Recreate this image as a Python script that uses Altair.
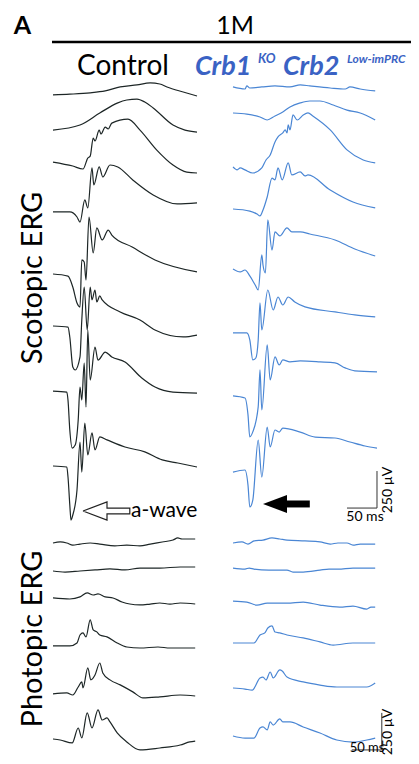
import altair as alt
import pandas as pd

# ---------------- data: traces as (time ms, amplitude µV) -----------------
ctrl_scot_1 = [(0,0),(28,5),(62,14),(87,27),(112,54),(140,68),(162,81),(178,74),(190,54),(217,20),(240,-7)]
ctrl_scot_2 = [(0,0),(45,34),(78,115),(107,182),(123,203),(140,209),(153,189),(167,149),(200,34),(220,0),(240,-14)]
ctrl_scot_3 = [(0,0),(33,-27),(50,-47),(58,27),(62,40),(67,162),(70,142),(77,216),(80,189),(87,236),(92,223),(98,263),(125,290),(145,216),(173,81),(200,-20),(223,-68),(240,-74)]
ctrl_scot_4 = [(0,0),(28,0),(40,-34),(45,-68),(53,81),(58,27),(65,297),(68,182),(77,304),(83,236),(95,317),(108,304),(133,216),(167,115),(207,54),(240,61)]
ctrl_scot_5 = [(0,0),(25,-14),(33,-88),(40,-196),(45,-223),(48,95),(52,81),(55,-41),(60,385),(67,142),(73,311),(82,230),(92,297),(98,263),(132,182),(170,95),(240,14)]
ctrl_scot_6 = [(0,0),(25,-7),(28,-74),(33,-277),(37,-297),(45,-209),(48,41),(52,263),(57,-27),(62,263),(65,176),(70,243),(73,162),(78,203),(82,176),(112,95),(145,41),(170,-27),(217,-74),(240,-61)]
ctrl_scot_7 = [(0,0),(23,-7),(25,-61),(28,-263),(32,-385),(37,-365),(42,-196),(45,27),(48,-61),(52,189),(55,-108),(58,412),(62,74),(70,297),(75,209),(87,263),(98,230),(120,196),(148,88),(170,27),(200,-7),(240,-14)]
ctrl_scot_8 = [(0,0),(23,-7),(25,-74),(28,-263),(30,-365),(33,-331),(40,-162),(45,162),(48,-41),(53,290),(58,74),(65,223),(70,108),(78,196),(90,176),(120,128),(153,95),(182,41),(208,20),(240,-7)]

ko_scot_1 = [(0,0),(20,-14),(23,7),(28,-7),(48,0),(70,7),(95,0),(112,14),(128,7),(162,-7),(187,-14),(195,0),(212,-14),(237,-27)]
ko_scot_2 = [(0,0),(23,-7),(45,-27),(57,-47),(70,-20),(83,7),(95,41),(112,68),(128,81),(145,81),(167,54),(190,20),(212,0),(237,-47)]
ko_scot_3 = [(0,0),(7,-20),(12,-7),(20,-20),(33,-41),(48,-7),(55,47),(62,81),(70,169),(75,203),(83,230),(87,250),(90,230),(92,284),(95,250),(100,351),(107,317),(117,351),(125,365),(133,344),(162,250),(190,115),(217,47),(237,27)]
ko_scot_4 = [(0,0),(28,-14),(40,-34),(45,-47),(50,-7),(57,81),(65,209),(70,196),(75,277),(82,196),(92,311),(98,230),(112,250),(120,223),(125,230),(162,128),(200,47),(237,7)]
ko_scot_5 = [(0,0),(12,-20),(20,-7),(28,-47),(37,-108),(42,-142),(48,95),(50,27),(54,-27),(58,331),(65,128),(70,250),(78,223),(90,277),(98,250),(112,250),(128,236),(170,196),(203,135),(237,88)]
ko_scot_6 = [(0,0),(23,0),(28,-47),(33,-182),(38,-169),(42,-47),(45,203),(48,20),(58,290),(67,155),(75,243),(83,189),(92,243),(103,209),(120,176),(170,142),(203,122),(237,108)]
ko_scot_7 = [(0,0),(20,-14),(25,-128),(28,-277),(33,-243),(42,-74),(45,176),(48,-95),(57,344),(62,108),(70,263),(77,209),(83,243),(95,230),(112,236),(145,230),(170,223),(187,189),(203,169),(240,162)]
ko_scot_8 = [(0,0),(20,14),(25,-88),(28,-236),(33,-189),(42,216),(48,-34),(57,304),(62,169),(70,284),(77,270),(83,297),(112,270),(137,236),(170,230),(195,203),(220,176),(240,162)]

ctrl_phot_1 = [(0,0),(12,7),(23,0),(33,-14),(45,-7),(62,0),(78,-7),(103,-20),(123,-14),(145,-20),(162,-7),(182,7),(200,20),(208,34),(215,27),(237,27)]
ctrl_phot_2 = [(0,0),(20,-7),(45,0),(70,7),(95,14),(120,7),(145,20),(178,20),(212,27),(237,27)]
ctrl_phot_3 = [(0,0),(28,-7),(45,7),(57,34),(67,20),(75,27),(87,7),(100,0),(115,-27),(128,-41),(145,-47),(162,-41),(178,-34),(195,-41),(212,-34),(237,-41)]
ctrl_phot_4 = [(0,0),(28,0),(40,20),(45,74),(50,88),(55,61),(62,176),(67,108),(73,95),(78,74),(90,61),(107,20),(123,-7),(145,-14),(175,-7),(195,-14),(237,-14)]
ctrl_phot_5 = [(0,0),(23,7),(33,-7),(42,47),(48,81),(50,41),(58,176),(63,95),(70,128),(78,209),(83,142),(95,95),(112,61),(133,14),(150,-27),(178,-20),(212,-7),(237,-14)]
ctrl_phot_6 = [(0,0),(12,-7),(32,-27),(42,74),(48,7),(57,176),(65,74),(75,196),(82,128),(90,142),(95,115),(107,41),(123,-20),(145,-74),(178,-61),(212,-41),(228,-20),(237,-14)]

ko_phot_1 = [(0,0),(15,7),(25,-7),(35,14),(50,20),(65,34),(78,27),(90,20),(120,14),(145,7),(162,-7),(175,0),(190,0),(200,-14),(212,-7),(237,-7)]
ko_phot_2 = [(0,0),(20,-7),(27,0),(35,-7),(60,-14),(90,-14),(100,-27),(117,-27),(145,-14),(160,-7),(175,-7),(200,0),(237,0)]
ko_phot_3 = [(0,0),(23,-7),(40,-27),(57,-14),(90,-14),(117,-7),(145,-27),(178,-41),(200,-34),(223,-54),(230,-41),(237,-41)]
ko_phot_4 = [(0,0),(35,0),(45,54),(53,68),(58,101),(65,115),(70,74),(78,68),(90,54),(117,34),(145,7),(167,-14),(200,0),(237,0)]
ko_phot_5 = [(0,0),(20,-7),(32,-14),(45,68),(50,74),(55,54),(62,108),(67,68),(78,122),(82,115),(90,74),(117,41),(145,20),(173,7),(200,7),(223,7),(237,34)]
ko_phot_6 = [(0,0),(20,-14),(35,-14),(45,54),(50,61),(57,41),(62,95),(67,74),(78,115),(83,95),(95,95),(117,61),(145,20),(173,-27),(200,-41),(223,-27),(237,-14)]

# vertical stacking offsets of each trace (µV)
ctrl_scot_offsets = [-587, -824, -1040, -1377, -1796, -2147, -2586, -3092]
ko_scot_offsets = [-533, -709, -1073, -1357, -1762, -2194, -2619, -3133]
ctrl_phot_offsets = [-3612, -3801, -3983, -4307, -4631, -4935]
ko_phot_offsets = [-3612, -3781, -4004, -4287, -4591, -4915]
KO_COLUMN_SHIFT_MS = 300

# scale bars: 50 ms x 250 µV
scale_bar_ms = 50
scale_bar_uv = 250

# labels
PANEL = "A"
AGE = "1M"
CTRL_LABEL = "Control"
KO_PARTS = ["Crb1", "KO", "Crb2", "Low-imPRC"]
SCOT_LABEL = "Scotopic ERG"
PHOT_LABEL = "Photopic ERG"
AWAVE = "a-wave"
MS_LABEL = "50 ms"
UV_LABEL = "250 µV"

BLACK = "#1d2626"
BLUE = "#4a86d4"
BLUE_TXT = "#3a62c4"
FONT = "Lato"

# ---------------- build table -----------------
rows = []
groups = [
    ("cs", [ctrl_scot_1, ctrl_scot_2, ctrl_scot_3, ctrl_scot_4, ctrl_scot_5, ctrl_scot_6, ctrl_scot_7, ctrl_scot_8], ctrl_scot_offsets, 0, "ctrl"),
    ("ks", [ko_scot_1, ko_scot_2, ko_scot_3, ko_scot_4, ko_scot_5, ko_scot_6, ko_scot_7, ko_scot_8], ko_scot_offsets, KO_COLUMN_SHIFT_MS, "ko"),
    ("cp", [ctrl_phot_1, ctrl_phot_2, ctrl_phot_3, ctrl_phot_4, ctrl_phot_5, ctrl_phot_6], ctrl_phot_offsets, 0, "ctrl"),
    ("kp", [ko_phot_1, ko_phot_2, ko_phot_3, ko_phot_4, ko_phot_5, ko_phot_6], ko_phot_offsets, KO_COLUMN_SHIFT_MS, "ko"),
]
for prefix, traces, offs, shift, grp in groups:
    for k, (tr, off) in enumerate(zip(traces, offs)):
        for i, (t, v) in enumerate(tr):
            rows.append({"trace": f"{prefix}{k}", "i": i, "x": t + shift, "y": v + off, "grp": grp})
df = pd.DataFrame(rows)

xs = alt.Scale(domain=[-75, 596.67], nice=False, zero=False)
ys = alt.Scale(domain=[-5050, 0], nice=False, zero=False)
X = lambda f: alt.X(f, scale=xs, axis=None)
Y = lambda f: alt.Y(f, scale=ys, axis=None)

lines = alt.Chart(df).mark_line(strokeWidth=1.2, strokeJoin="round", interpolate="monotone").encode(
    x=X("x:Q"), y=Y("y:Q"), detail="trace:N", order="i:Q",
    color=alt.Color("grp:N", scale=alt.Scale(domain=["ctrl", "ko"], range=[BLACK, BLUE]), legend=None),
)

# scale bars (data units)
sb = pd.DataFrame([
    {"x": 490, "x2": 490 + scale_bar_ms, "y": -3376, "y2": -3376},
    {"x": 490 + scale_bar_ms, "x2": 490 + scale_bar_ms, "y": -3376, "y2": -3376 + scale_bar_uv},
    {"x": 498, "x2": 498 + scale_bar_ms, "y": -5009, "y2": -5009},
    {"x": 498 + scale_bar_ms, "x2": 498 + scale_bar_ms, "y": -5009, "y2": -5009 + scale_bar_uv},
])
bars = alt.Chart(sb).mark_rule(color="#333333", strokeWidth=1).encode(
    x=X("x:Q"), x2="x2:Q", y=Y("y:Q"), y2="y2:Q")

# hollow a-wave arrow (outline)
hollow = pd.DataFrame({
    "x": [50, 90, 90, 128, 128, 90, 90, 50],
    "y": [-3396, -3335, -3376, -3376, -3416, -3416, -3457, -3396],
    "i": list(range(8)),
})
hollow_arrow = alt.Chart(hollow).mark_line(color="#222222", strokeWidth=1.2, strokeJoin="miter").encode(
    x=X("x:Q"), y=Y("y:Q"), order="i:Q")

# solid arrow
head = pd.DataFrame({"x": [350, 390], "y": [-3349, -3288], "y2": [-3349, -3409]})
solid_head = alt.Chart(head).mark_area(color="black", opacity=1).encode(
    x=X("x:Q"), y=Y("y:Q"), y2="y2:Q")
shaft = pd.DataFrame({"x": [389], "x2": [428], "y": [-3325], "y2": [-3372]})
solid_shaft = alt.Chart(shaft).mark_rect(color="black").encode(
    x=X("x:Q"), x2="x2:Q", y=Y("y:Q"), y2="y2:Q")

header_rule = alt.Chart(pd.DataFrame({"a": [0]})).mark_rule(color="black", strokeWidth=2.5).encode(
    x=alt.value(44), x2=alt.value(409), y=alt.value(34))


def txt(label, x, y, size, color="black", align="center", baseline="alphabetic", angle=0, **kw):
    return alt.Chart(pd.DataFrame({"label": [label]})).mark_text(
        font=FONT, fontSize=size, color=color, align=align, baseline=baseline, angle=angle, **kw
    ).encode(x=alt.value(x), y=alt.value(y), text="label:N")


texts = [
    txt(PANEL, 14.5, 26, 25, fontWeight="bold"),
    txt(AGE, 227, 26, 25),
    txt(CTRL_LABEL, 115, 67, 28),
    txt(KO_PARTS[0], 187, 67, 27, color=BLUE_TXT, align="left", fontStyle="italic", fontWeight="bold"),
    txt(KO_PARTS[1], 250, 55, 13, color=BLUE_TXT, align="left", fontStyle="italic", fontWeight="bold"),
    txt(KO_PARTS[2], 275, 67, 27, color=BLUE_TXT, align="left", fontStyle="italic", fontWeight="bold"),
    txt(KO_PARTS[3], 339, 55, 12, color=BLUE_TXT, align="left", fontStyle="italic", fontWeight="bold"),
    txt(SCOT_LABEL, 34, 270, 29, angle=270),
    txt(PHOT_LABEL, 34, 631, 29, angle=270),
    txt(AWAVE, 123, 503, 21, align="left", baseline="middle"),
    txt(MS_LABEL, 357, 509, 14, baseline="middle"),
    txt(UV_LABEL, 380, 482, 14, baseline="middle", angle=270),
    txt(MS_LABEL, 359, 740, 13, baseline="middle"),
    txt(UV_LABEL, 380, 724, 14, baseline="middle", angle=270),
]

chart = alt.layer(lines, bars, hollow_arrow, solid_head, solid_shaft, header_rule, *texts).properties(
    width=403, height=748, padding=0, autosize=alt.AutoSizeParams(type="none")
).configure_view(stroke=None)

chart.save("out.html", embed_options={"renderer": "svg", "actions": False})
